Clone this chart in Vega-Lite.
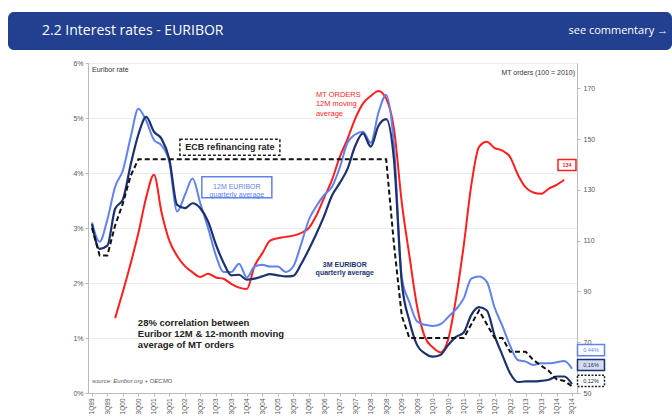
{
  "$schema": "https://vega.github.io/schema/vega-lite/v6.json",
  "padding": {"left": 8, "top": 12, "right": 0, "bottom": 0},
  "background": "white",
  "spacing": 9,
  "config": {"font": "Liberation Sans", "view": {"stroke": null}},
  "datasets": {
    "q": [
      {"d": "1999-01-01", "m3": 3.07, "m12": 3.10, "ecb": 3.0, "mt": null},
      {"d": "1999-04-01", "m3": 2.62, "m12": 2.75, "ecb": 2.5, "mt": null},
      {"d": "1999-07-01", "m3": 2.68, "m12": 3.15, "ecb": 2.5, "mt": null},
      {"d": "1999-10-01", "m3": 3.35, "m12": 3.75, "ecb": 3.05, "mt": 79.5},
      {"d": "2000-01-01", "m3": 3.52, "m12": 4.05, "ecb": 3.45, "mt": 90},
      {"d": "2000-04-01", "m3": 4.15, "m12": 4.65, "ecb": 3.95, "mt": 101},
      {"d": "2000-07-01", "m3": 4.70, "m12": 5.17, "ecb": 4.25, "mt": 113},
      {"d": "2000-10-01", "m3": 5.02, "m12": 4.95, "ecb": 4.25, "mt": 127},
      {"d": "2001-01-01", "m3": 4.75, "m12": 4.60, "ecb": 4.25, "mt": 136},
      {"d": "2001-04-01", "m3": 4.62, "m12": 4.50, "ecb": 4.25, "mt": 121},
      {"d": "2001-07-01", "m3": 4.25, "m12": 4.20, "ecb": 4.25, "mt": 110},
      {"d": "2001-10-01", "m3": 3.42, "m12": 3.30, "ecb": 4.25, "mt": 104},
      {"d": "2002-01-01", "m3": 3.36, "m12": 3.60, "ecb": 4.25, "mt": 100},
      {"d": "2002-04-01", "m3": 3.45, "m12": 3.90, "ecb": 4.25, "mt": 97.5},
      {"d": "2002-07-01", "m3": 3.36, "m12": 3.45, "ecb": 4.25, "mt": 95.7},
      {"d": "2002-10-01", "m3": 3.12, "m12": 3.00, "ecb": 4.25, "mt": 97},
      {"d": "2003-01-01", "m3": 2.70, "m12": 2.50, "ecb": 4.25, "mt": 95.5},
      {"d": "2003-04-01", "m3": 2.37, "m12": 2.20, "ecb": 4.25, "mt": 95},
      {"d": "2003-07-01", "m3": 2.14, "m12": 2.20, "ecb": 4.25, "mt": 93},
      {"d": "2003-10-01", "m3": 2.15, "m12": 2.35, "ecb": 4.25, "mt": 91.5},
      {"d": "2004-01-01", "m3": 2.06, "m12": 2.10, "ecb": 4.25, "mt": 91},
      {"d": "2004-04-01", "m3": 2.08, "m12": 2.30, "ecb": 4.25, "mt": 100},
      {"d": "2004-07-01", "m3": 2.12, "m12": 2.33, "ecb": 4.25, "mt": 105},
      {"d": "2004-10-01", "m3": 2.16, "m12": 2.30, "ecb": 4.25, "mt": 110},
      {"d": "2005-01-01", "m3": 2.14, "m12": 2.30, "ecb": 4.25, "mt": 111},
      {"d": "2005-04-01", "m3": 2.12, "m12": 2.20, "ecb": 4.25, "mt": 111.5},
      {"d": "2005-07-01", "m3": 2.13, "m12": 2.30, "ecb": 4.25, "mt": 112},
      {"d": "2005-10-01", "m3": 2.34, "m12": 2.70, "ecb": 4.25, "mt": 113},
      {"d": "2006-01-01", "m3": 2.61, "m12": 3.15, "ecb": 4.25, "mt": 115},
      {"d": "2006-04-01", "m3": 2.90, "m12": 3.40, "ecb": 4.25, "mt": 120},
      {"d": "2006-07-01", "m3": 3.22, "m12": 3.60, "ecb": 4.25, "mt": 127},
      {"d": "2006-10-01", "m3": 3.59, "m12": 3.75, "ecb": 4.25, "mt": 134},
      {"d": "2007-01-01", "m3": 3.82, "m12": 4.10, "ecb": 4.25, "mt": 143},
      {"d": "2007-04-01", "m3": 4.07, "m12": 4.55, "ecb": 4.25, "mt": 150},
      {"d": "2007-07-01", "m3": 4.49, "m12": 4.70, "ecb": 4.25, "mt": 158},
      {"d": "2007-10-01", "m3": 4.72, "m12": 4.75, "ecb": 4.25, "mt": 164},
      {"d": "2008-01-01", "m3": 4.48, "m12": 4.55, "ecb": 4.25, "mt": 167},
      {"d": "2008-04-01", "m3": 4.86, "m12": 5.10, "ecb": 4.25, "mt": 169},
      {"d": "2008-07-01", "m3": 4.98, "m12": 5.42, "ecb": 4.25, "mt": 166},
      {"d": "2008-10-01", "m3": 4.24, "m12": 4.50, "ecb": 2.7, "mt": 154},
      {"d": "2009-01-01", "m3": 2.01, "m12": 2.10, "ecb": 1.4, "mt": 125},
      {"d": "2009-04-01", "m3": 1.31, "m12": 1.65, "ecb": 1.0, "mt": 104},
      {"d": "2009-07-01", "m3": 0.87, "m12": 1.30, "ecb": 1.0, "mt": 84},
      {"d": "2009-10-01", "m3": 0.72, "m12": 1.24, "ecb": 1.0, "mt": 72},
      {"d": "2010-01-01", "m3": 0.66, "m12": 1.22, "ecb": 1.0, "mt": 68},
      {"d": "2010-04-01", "m3": 0.69, "m12": 1.25, "ecb": 1.0, "mt": 66},
      {"d": "2010-07-01", "m3": 0.87, "m12": 1.38, "ecb": 1.0, "mt": 71},
      {"d": "2010-10-01", "m3": 1.02, "m12": 1.52, "ecb": 1.0, "mt": 87},
      {"d": "2011-01-01", "m3": 1.10, "m12": 1.72, "ecb": 1.0, "mt": 108},
      {"d": "2011-04-01", "m3": 1.42, "m12": 2.08, "ecb": 1.25, "mt": 132},
      {"d": "2011-07-01", "m3": 1.56, "m12": 2.12, "ecb": 1.5, "mt": 147},
      {"d": "2011-10-01", "m3": 1.50, "m12": 2.02, "ecb": 1.25, "mt": 149},
      {"d": "2012-01-01", "m3": 1.04, "m12": 1.55, "ecb": 1.0, "mt": 146.5},
      {"d": "2012-04-01", "m3": 0.69, "m12": 1.22, "ecb": 1.0, "mt": 145.5},
      {"d": "2012-07-01", "m3": 0.36, "m12": 0.86, "ecb": 0.75, "mt": 143},
      {"d": "2012-10-01", "m3": 0.20, "m12": 0.60, "ecb": 0.75, "mt": 136},
      {"d": "2013-01-01", "m3": 0.21, "m12": 0.57, "ecb": 0.75, "mt": 131},
      {"d": "2013-04-01", "m3": 0.21, "m12": 0.51, "ecb": 0.6, "mt": 129},
      {"d": "2013-07-01", "m3": 0.22, "m12": 0.54, "ecb": 0.5, "mt": 128.5},
      {"d": "2013-10-01", "m3": 0.24, "m12": 0.54, "ecb": 0.4, "mt": 130.5},
      {"d": "2014-01-01", "m3": 0.30, "m12": 0.56, "ecb": 0.25, "mt": 132},
      {"d": "2014-04-01", "m3": 0.30, "m12": 0.58, "ecb": 0.22, "mt": 134},
      {"d": "2014-07-01", "m3": 0.16, "m12": 0.44, "ecb": 0.12, "mt": null}
    ]
  },
  "vconcat": [
    {
      "width": 664,
      "height": 38,
      "view": {"fill": "#233f8f", "stroke": null, "cornerRadius": 6},
      "data": {"values": [
        {"t": "2.2 Interest rates - EURIBOR", "side": "L"},
        {"t": "see commentary  \u2192", "side": "R"}
      ]},
      "encoding": {
        "x": {"field": "side", "type": "nominal", "scale": {"type": "point", "domain": ["L", "R"], "padding": 0}, "axis": null},
        "text": {"field": "t"}
      },
      "layer": [
        {"transform": [{"filter": "datum.side === 'L'"}], "mark": {"type": "text", "align": "left", "baseline": "middle", "dx": 34, "fontSize": 14, "font": "Open Sans", "color": "white"}},
        {"transform": [{"filter": "datum.side === 'R'"}], "mark": {"type": "text", "align": "right", "baseline": "middle", "dx": -4, "fontSize": 11, "font": "Open Sans", "color": "white"}}
      ]
    },
    {
      "spacing": 0,
      "hconcat": [
        {
          "width": 60,
          "height": 330,
          "data": {"values": []},
          "mark": "point"
        },
        {
          "width": 489,
          "height": 330,
          "view": {"stroke": null},
          "resolve": {"scale": {"y": "independent"}, "axis": {"y": "independent"}},
          "encoding": {
            "x": {
              "field": "d", "type": "temporal",
              "scale": {"type": "utc", "domain": [{"year": 1998, "month": "nov", "date": 15, "utc": true}, {"year": 2014, "month": "aug", "date": 29, "utc": true}]},
              "axis": {"title": null, "labelExpr": "(floor(utcmonth(datum.value) / 3) + 1) + 'Q' + slice('' + utcyear(datum.value), 2)", "tickCount": {"interval": "month", "step": 6}, "labelAngle": 270, "labelFontSize": 6.5, "labelColor": "#555", "tickSize": 3, "tickColor": "#bbb", "domainColor": "#bbb", "grid": false, "labelFlush": false, "labelOverlap": false, "labelPadding": 2}
            }
          },
          "layer": [
            {
              "encoding": {
                "y": {"field": "value", "type": "quantitative", "scale": {"domain": [50, 180], "nice": false, "zero": false}, "axis": {"orient": "right", "title": null, "values": [50, 70, 90, 110, 130, 150, 170], "labelFontSize": 7, "labelColor": "#555", "tickSize": 3, "tickColor": "#bbb", "domainColor": "#bbb", "grid": false, "labelPadding": 3}}
              },
              "layer": [
                {
                  "data": {"name": "q"},
                  "transform": [{"fold": ["mt"], "as": ["key", "value"]}],
                  "mark": {"type": "line", "color": "#ff1f1f", "strokeWidth": 2, "interpolate": "monotone"}
                },
                {
                  "data": {"values": [{"d": "2014-05-03", "value": 139.8}]},
                  "mark": {"type": "point", "shape": "M-1,-0.61H1V0.61H-1Z", "size": 324, "filled": true, "fill": "white", "stroke": "#ff1f1f", "strokeWidth": 1.5, "opacity": 1}
                },
                {
                  "data": {"values": [{"d": "2014-05-03", "value": 139.8, "t": "134"}]},
                  "mark": {"type": "text", "fontSize": 5.5, "fontWeight": "bold", "color": "#ff1f1f"},
                  "encoding": {"text": {"field": "t"}}
                }
              ]
            },
            {
              "encoding": {
                "y": {"field": "value", "type": "quantitative", "scale": {"domain": [0, 6], "nice": false}, "axis": {"orient": "left", "title": null, "values": [0, 1, 2, 3, 4, 5, 6], "labelExpr": "datum.value + '%'", "labelFontSize": 7, "labelColor": "#555", "tickSize": 3, "tickColor": "#bbb", "domainColor": "#bbb", "grid": true, "gridColor": "#ececec", "labelPadding": 2, "minExtent": 20, "maxExtent": 20}}
              },
              "layer": [
                {
                  "data": {"name": "q"},
                  "transform": [{"fold": ["m12"], "as": ["key", "value"]}],
                  "mark": {"type": "line", "color": "#5f82ee", "strokeWidth": 2, "interpolate": "monotone"}
                },
                {
                  "data": {"name": "q"},
                  "transform": [{"fold": ["m3"], "as": ["key", "value"]}],
                  "mark": {"type": "line", "color": "#1c3170", "strokeWidth": 2.2, "interpolate": "monotone"}
                },
                {
                  "data": {"name": "q"},
                  "transform": [{"fold": ["ecb"], "as": ["key", "value"]}],
                  "mark": {"type": "line", "color": "#111", "strokeWidth": 2, "strokeDash": [5, 3]}
                },
                {
                  "data": {"values": [{"d": "1999-01-01", "value": 5.87, "t": "Euribor rate"}]},
                  "mark": {"type": "text", "align": "left", "fontSize": 7, "color": "#333"},
                  "encoding": {"text": {"field": "t"}}
                },
                {
                  "data": {"values": [{"d": "2014-07-01", "value": 5.82, "t": "MT orders (100 = 2010)"}]},
                  "mark": {"type": "text", "align": "right", "dx": 3, "fontSize": 7, "color": "#333"},
                  "encoding": {"text": {"field": "t"}}
                },
                {
                  "data": {"values": [{"d": "2006-03-25", "value": 5.42, "t": "MT ORDERS\n12M moving\naverage"}]},
                  "mark": {"type": "text", "align": "left", "fontSize": 7.5, "lineHeight": 9.5, "lineBreak": "\n", "color": "#ff1f1f"},
                  "encoding": {"text": {"field": "t"}}
                },
                {
                  "data": {"values": [{"d": "2003-06-15", "value": 4.47}]},
                  "mark": {"type": "point", "shape": "M-1,-0.16H1V0.16H-1Z", "size": 10000, "filled": true, "fill": "white", "stroke": "#222", "strokeWidth": 1.5, "strokeDash": [3, 2], "opacity": 1}
                },
                {
                  "data": {"values": [{"d": "2003-06-15", "value": 4.47, "t": "ECB refinancing rate"}]},
                  "mark": {"type": "text", "fontSize": 9, "fontWeight": "bold", "color": "#222"},
                  "encoding": {"text": {"field": "t"}}
                },
                {
                  "data": {"values": [{"d": "2003-09-05", "value": 3.74}]},
                  "mark": {"type": "point", "shape": "M-1,-0.3H1V0.3H-1Z", "size": 4900, "filled": true, "fill": "white", "stroke": "#5f82ee", "strokeWidth": 1.5, "opacity": 1}
                },
                {
                  "data": {"values": [{"d": "2003-09-05", "value": 3.74, "t": "12M EURIBOR\nquarterly average"}]},
                  "mark": {"type": "text", "fontSize": 7, "lineHeight": 8, "lineBreak": "\n", "color": "#5f82ee"},
                  "encoding": {"text": {"field": "t"}}
                },
                {
                  "data": {"values": [{"d": "2007-03-01", "value": 2.33, "t": "3M EURIBOR\nquarterly average"}]},
                  "mark": {"type": "text", "fontSize": 7, "lineHeight": 8, "lineBreak": "\n", "fontWeight": "bold", "color": "#1c3170"},
                  "encoding": {"text": {"field": "t"}}
                },
                {
                  "data": {"values": [{"d": "2000-06-25", "value": 1.28, "t": "28% correlation between\nEuribor 12M & 12-month moving\naverage of MT orders"}]},
                  "mark": {"type": "text", "align": "left", "fontSize": 9.5, "lineHeight": 11, "lineBreak": "\n", "fontWeight": "bold", "color": "#222"},
                  "encoding": {"text": {"field": "t"}}
                },
                {
                  "data": {"values": [{"d": "1999-01-01", "value": 0.22, "t": "source:  Euribor.org + OECMO"}]},
                  "mark": {"type": "text", "align": "left", "fontSize": 6, "fontStyle": "italic", "color": "#555"},
                  "encoding": {"text": {"field": "t"}}
                },
                {
                  "data": {"values": [{"d": "2015-02-10", "value": 0.78}]},
                  "mark": {"type": "point", "shape": "M-1,-0.41H1V0.41H-1Z", "size": 729, "filled": true, "fill": "white", "stroke": "#5f82ee", "strokeWidth": 1.5, "opacity": 1}
                },
                {
                  "data": {"values": [{"d": "2015-02-10", "value": 0.78, "t": "0,44%"}]},
                  "mark": {"type": "text", "fontSize": 5.5, "color": "#5f82ee"},
                  "encoding": {"text": {"field": "t"}}
                },
                {
                  "data": {"values": [{"d": "2015-02-10", "value": 0.51}]},
                  "mark": {"type": "point", "shape": "M-1,-0.41H1V0.41H-1Z", "size": 729, "filled": true, "fill": "#d5dcee", "stroke": "#1c3170", "strokeWidth": 1.5, "opacity": 1}
                },
                {
                  "data": {"values": [{"d": "2015-02-10", "value": 0.51, "t": "0,16%"}]},
                  "mark": {"type": "text", "fontSize": 5.5, "color": "#1c3170"},
                  "encoding": {"text": {"field": "t"}}
                },
                {
                  "data": {"values": [{"d": "2015-02-10", "value": 0.22}]},
                  "mark": {"type": "point", "shape": "M-1,-0.41H1V0.41H-1Z", "size": 729, "filled": true, "fill": "white", "stroke": "#222", "strokeWidth": 1.5, "strokeDash": [2, 1.5], "opacity": 1}
                },
                {
                  "data": {"values": [{"d": "2015-02-10", "value": 0.22, "t": "0,12%"}]},
                  "mark": {"type": "text", "fontSize": 5.5, "color": "#222"},
                  "encoding": {"text": {"field": "t"}}
                }
              ]
            }
          ]
        }
      ]
    }
  ]
}
